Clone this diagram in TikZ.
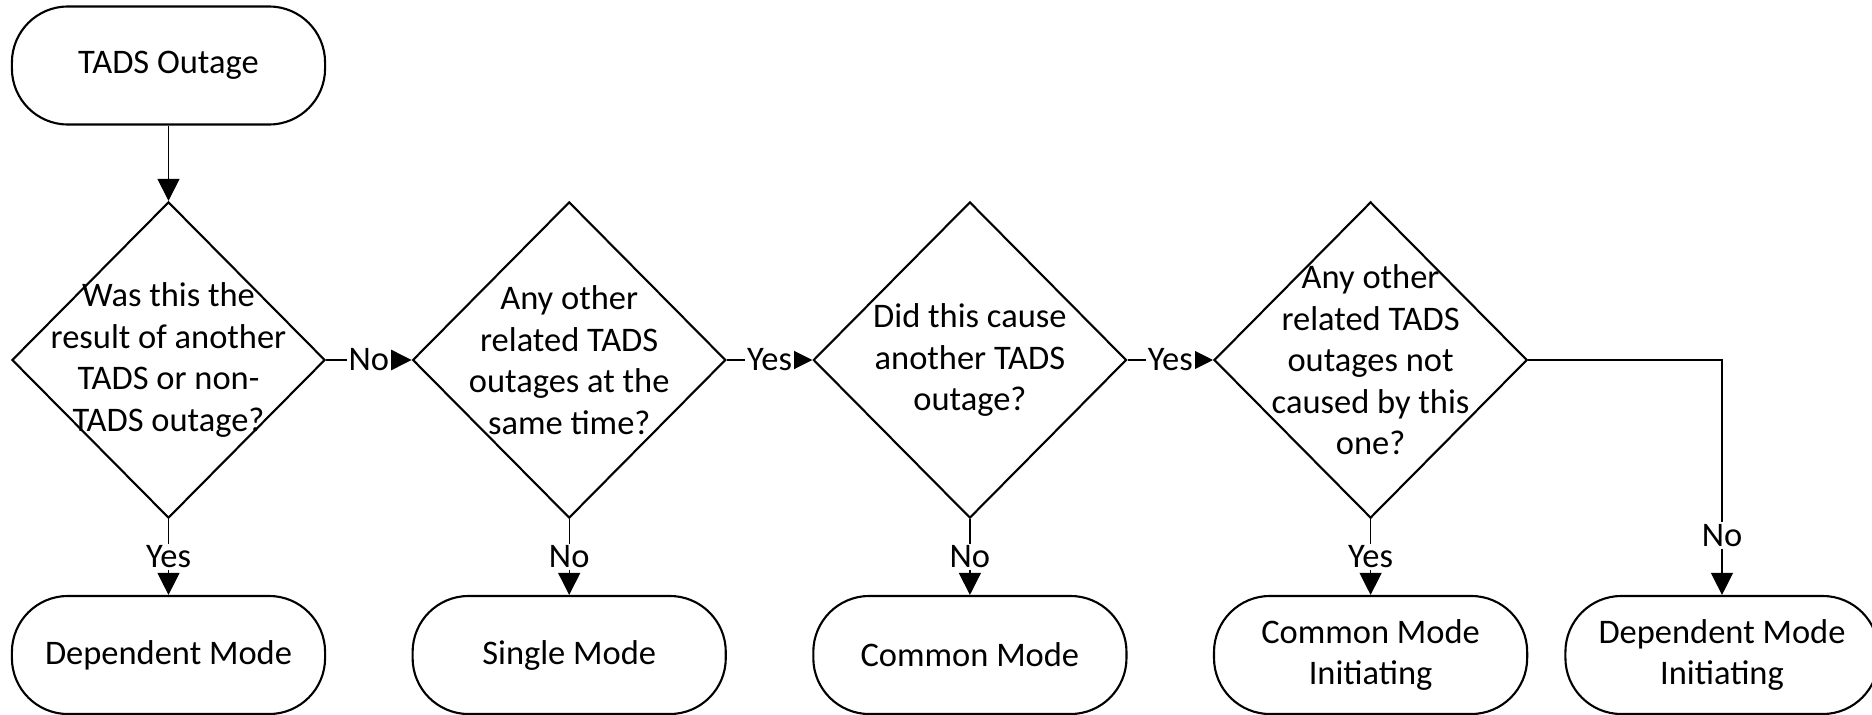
\documentclass[tikz,border=0pt]{standalone}
\usepackage{fontspec}
\setmainfont{Carlito}
\usetikzlibrary{shapes.geometric,arrows.meta}
\newcommand\dfont{\fontsize{9.8}{11.8}\selectfont}
\begin{document}
\begin{tikzpicture}[x=0.01cm,y=-0.01cm,
  term/.style={draw,line width=0.6pt,rounded corners=0.56cm,minimum width=3.13cm,minimum height=1.18cm,inner sep=0pt,align=center,font=\dfont},
  dec/.style={draw,diamond,line width=0.6pt,minimum width=3.13cm,minimum height=3.16cm,inner sep=0pt},
  qtext/.style={align=center,font=\dfont,inner sep=0pt},
  conn/.style={line width=0.35pt,-{Triangle[length=0.22cm,width=0.22cm]}},
  lab/.style={fill=white,font=\dfont,inner sep=0.6pt}]
\useasboundingbox (0,0) rectangle (1872,715);
\node[term] (start) at (168.5,65.5) {TADS Outage};
\node[dec] (d1) at (168.5,360) {};
\node[qtext] (t1) at (d1.center) {Was this the\\result of another\\TADS or non-\\TADS outage?};
\node[dec] (d2) at (569.2,360) {};
\node[qtext] (t2) at (d2.center) {Any other\\related TADS\\outages at the\\same time?};
\node[dec] (d3) at (969.9,360) {};
\node[qtext] (t3) at (d3.center) {Did this cause\\another TADS\\outage?};
\node[dec] (d4) at (1370.6,360) {};
\node[qtext] (t4) at (d4.center) {Any other\\related TADS\\outages not\\caused by this\\one?};
\node[term] (b1) at (168.5,655) {Dependent Mode};
\node[term] (b2) at (569.2,655) {Single Mode};
\node[term] (b3) at (969.9,655) {Common Mode};
\node[term] (b4) at (1370.6,655) {Common Mode\\Initiating};
\node[term] (b5) at (1722,655) {Dependent Mode\\Initiating};
\draw[conn] (start) -- (d1);
\draw[conn] (d1.east) -- node[lab]{No} (d2.west);
\draw[conn] (d2.east) -- node[lab]{Yes} (d3.west);
\draw[conn] (d3.east) -- node[lab]{Yes} (d4.west);
\draw[conn] (d1.south) -- node[lab]{Yes} (b1.north);
\draw[conn] (d2.south) -- node[lab]{No} (b2.north);
\draw[conn] (d3.south) -- node[lab]{No} (b3.north);
\draw[conn] (d4.south) -- node[lab]{Yes} (b4.north);
\draw[conn] (d4.east) -| node[lab,pos=0.873]{No} (b5.north);
\end{tikzpicture}
\end{document}
